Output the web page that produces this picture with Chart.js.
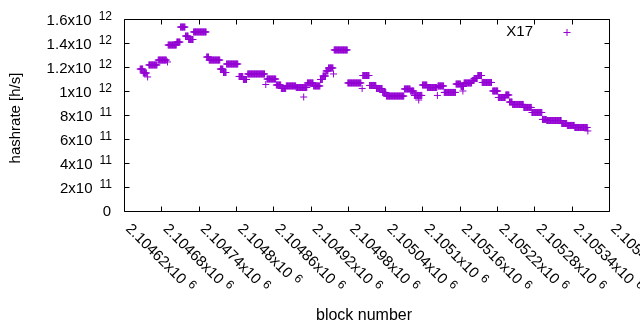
<!DOCTYPE html>
<html><head><meta charset="utf-8">
<script src="https://cdn.jsdelivr.net/npm/chart.js@4"></script>
<style>html,body{margin:0;padding:0;background:#fff}</style>
</head><body>
<canvas id="c" width="640" height="330" style="width:640px;height:330px;display:block"></canvas>
<script>
const seriesName = 'X17';
// constant-value runs of per-block hashrate estimates
const runFirstBlock = [2104646,2104651,2104658,2104660,2104675,2104690,2104691,2104705,2104711,2104719,2104724,2104732,2104753,2104757,2104775,2104780,2104785,2104805,2104812,2104819,2104848,2104850,2104865,2104873,2104881,2104897,2104909,2104915,2104925,2104936,2104940,2104945,2104949,2104957,2104958,2104980,2105003,2105004,2105015,2105026,2105036,2105042,2105071,2105081,2105087,2105094,2105100,2105108,2105124,2105125,2105135,2105154,2105162,2105165,2105167,2105180,2105183,2105189,2105196,2105213,2105222,2105234,2105240,2105245,2105263,2105276,2105293,2105300,2105324,2105333,2105345,2105366];
const runLastBlock  = [2104650,2104656,2104658,2104673,2104688,2104690,2104704,2104710,2104718,2104723,2104731,2104752,2104756,2104774,2104779,2104784,2104803,2104811,2104817,2104846,2104848,2104864,2104872,2104880,2104896,2104914,2104909,2104924,2104935,2104939,2104944,2104948,2104956,2104957,2104979,2105001,2105003,2105014,2105025,2105035,2105041,2105070,2105080,2105086,2105099,2105094,2105107,2105123,2105124,2105134,2105153,2105161,2105166,2105165,2105179,2105182,2105188,2105195,2105211,2105221,2105233,2105239,2105244,2105262,2105275,2105292,2105299,2105323,2105332,2105344,2105365,2105366];
const runHashrate   = [1.183e12,1.150e12,1.117e12,1.217e12,1.258e12,1.242e12,1.383e12,1.408e12,1.533e12,1.458e12,1.429e12,1.492e12,1.283e12,1.258e12,1.183e12,1.154e12,1.225e12,1.121e12,1.096e12,1.142e12,1.054e12,1.100e12,1.050e12,1.021e12,1.042e12,1.029e12,0.950e12,1.067e12,1.042e12,1.096e12,1.125e12,1.167e12,1.192e12,1.142e12,1.342e12,1.067e12,1.021e12,1.129e12,1.046e12,1.021e12,0.988e12,0.958e12,1.017e12,1.000e12,0.963e12,0.925e12,1.050e12,1.029e12,0.963e12,1.042e12,0.988e12,1.058e12,1.038e12,1.000e12,1.067e12,1.088e12,1.104e12,1.129e12,1.071e12,1.000e12,0.946e12,0.967e12,0.908e12,0.888e12,0.863e12,0.821e12,0.763e12,0.754e12,0.729e12,0.713e12,0.696e12,0.667e12];

const xTickValues = [2104620,2104680,2104740,2104800,2104860,2104920,2104980,2105040,2105100,2105160,2105220,2105280,2105340,2105400];
const xTickLabels = ['2.10462x10^6','2.10468x10^6','2.10474x10^6','2.1048x10^6','2.10486x10^6','2.10492x10^6','2.10498x10^6','2.10504x10^6','2.1051x10^6','2.10516x10^6','2.10522x10^6','2.10528x10^6','2.10534x10^6','2.1054x10^6'];
const yTickValues = [0,2e11,4e11,6e11,8e11,1e12,1.2e12,1.4e12,1.6e12];
const yTickLabels = ['0','2x10^11','4x10^11','6x10^11','8x10^11','1x10^12','1.2x10^12','1.4x10^12','1.6x10^12'];
const xTitle = 'block number';
const yTitle = 'hashrate [h/s]';

const COLOR = '#9400d3';
const FONT = '15px "Liberation Sans", Arial, sans-serif';
const TITLEFONT = '16px "Liberation Sans", Arial, sans-serif';
const SUPFONT = '12px "Liberation Sans", Arial, sans-serif';
const SUPGAP = 7;

const points = [];
for (let i = 0; i < runFirstBlock.length; i++) {
  for (let b = runFirstBlock[i]; b <= runLastBlock[i]; b++) points.push({x: b, y: runHashrate[i]});
}

const axisPlugin = {
  id: 'gnuplotAxes',
  afterDraw(chart) {
    const ctx = chart.ctx, a = chart.chartArea;
    const xs = chart.scales.x, ys = chart.scales.y;
    const L = Math.round(a.left) + 0.5, R = Math.round(a.right) + 0.5;
    const T = Math.round(a.top) + 0.5, B = Math.round(a.bottom) + 0.5;
    ctx.save();
    ctx.strokeStyle = '#000';
    ctx.lineWidth = 1;
    ctx.beginPath();
    ctx.rect(L, T, R - L, B - T);
    const tl = 5;
    xTickValues.forEach(v => {
      const px = Math.round(xs.getPixelForValue(v)) + 0.5;
      ctx.moveTo(px, B); ctx.lineTo(px, B - tl);
      ctx.moveTo(px, T); ctx.lineTo(px, T + tl);
    });
    yTickValues.forEach(v => {
      const py = Math.round(ys.getPixelForValue(v)) + 0.5;
      ctx.moveTo(L, py); ctx.lineTo(L + tl, py);
      ctx.moveTo(R, py); ctx.lineTo(R - tl, py);
    });
    ctx.stroke();

    ctx.fillStyle = '#000';
    // y tick labels
    yTickValues.forEach((v, i) => {
      const py = ys.getPixelForValue(v);
      const parts = yTickLabels[i].split('^');
      const rightX = 112;
      if (parts.length === 1) {
        ctx.font = FONT; ctx.textAlign = 'right'; ctx.textBaseline = 'middle';
        ctx.fillText(parts[0], rightX - 1, py + 1);
      } else {
        ctx.font = SUPFONT; ctx.textAlign = 'right'; ctx.textBaseline = 'middle';
        const sw = ctx.measureText(parts[1]).width;
        ctx.fillText(parts[1], rightX, py - 2.5);
        ctx.font = FONT;
        ctx.fillText(parts[0], rightX - sw - SUPGAP, py + 1.5);
      }
    });
    // x tick labels, rotated -45 (down-right)
    xTickValues.forEach((v, i) => {
      const px = xs.getPixelForValue(v);
      const parts = xTickLabels[i].split('^');
      ctx.save();
      ctx.translate(px + 4, B + 15);
      ctx.rotate(Math.PI / 4);
      ctx.textAlign = 'left'; ctx.textBaseline = 'middle';
      ctx.font = FONT;
      ctx.fillText(parts[0], 0, 0);
      const mw = ctx.measureText(parts[0]).width;
      if (parts[1]) {
        ctx.font = SUPFONT;
        ctx.fillText(parts[1], mw + SUPGAP - 2, -4);
      }
      ctx.restore();
    });
    // axis titles
    ctx.font = TITLEFONT; ctx.textAlign = 'center'; ctx.textBaseline = 'middle';
    ctx.fillText(xTitle, 364, 316);
    ctx.font = FONT;
    ctx.save();
    ctx.translate(16, 118);
    ctx.rotate(-Math.PI / 2);
    ctx.fillText(yTitle, 0, 0);
    ctx.restore();
    // key
    ctx.textAlign = 'right';
    ctx.fillText(seriesName, 533, 32);
    ctx.strokeStyle = COLOR;
    ctx.beginPath();
    ctx.moveTo(563.5, 32.5); ctx.lineTo(570.5, 32.5);
    ctx.moveTo(567, 29); ctx.lineTo(567, 36);
    ctx.stroke();
    ctx.restore();
  }
};

new Chart(document.getElementById('c'), {
  type: 'scatter',
  data: { datasets: [{
    label: seriesName, data: points,
    pointStyle: 'cross', pointRadius: 3.5, pointHoverRadius: 3.5,
    pointBorderWidth: 1, borderColor: COLOR, backgroundColor: COLOR
  }]},
  options: {
    responsive: false, animation: false, devicePixelRatio: 1,
    events: [],
    layout: { padding: { left: 124, right: 31, top: 19, bottom: 119 } },
    plugins: { legend: { display: false }, tooltip: { enabled: false } },
    scales: {
      x: { type: 'linear', min: 2104620, max: 2105400,
           ticks: { display: false }, grid: { display: false }, border: { display: false },
           afterFit(s) { s.height = 0; } },
      y: { type: 'linear', min: 0, max: 1.6e12,
           ticks: { display: false }, grid: { display: false }, border: { display: false },
           afterFit(s) { s.width = 0; } }
    }
  },
  plugins: [axisPlugin]
});
</script>
</body></html>
